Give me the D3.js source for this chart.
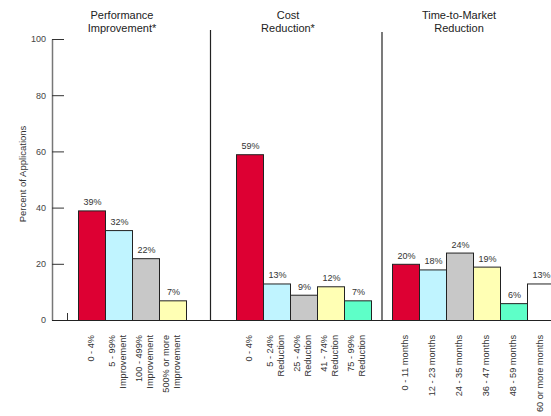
<!DOCTYPE html>
<html>
<head>
<meta charset="utf-8">
<script src="https://cdn.jsdelivr.net/npm/d3@7"></script>
<style>
  body { margin: 0; background: #fff; }
  text { font-family: 'Liberation Sans', Arial, sans-serif; }
</style>
</head>
<body>
<div id="chart"></div>
<script>
const width = 551
const height = 416

// data
const perfTitle = ['Performance', 'Improvement*']
const perfCats = [['0 - 4%'], ['5 - 99%', 'Improvement'], ['100 - 499%', 'Improvement'], ['500% or more', 'Improvement']]
const perfValues = [39, 32, 22, 7]

const costTitle = ['Cost', 'Reduction*']
const costCats = [['0 - 4%'], ['5 - 24%', 'Reduction'], ['25 - 40%', 'Reduction'], ['41 - 74%', 'Reduction'], ['75 - 99%', 'Reduction']]
const costValues = [59, 13, 9, 12, 7]

const timeTitle = ['Time-to-Market', 'Reduction']
const timeCats = [['0 - 11 months'], ['12 - 23 months'], ['24 - 35 months'], ['36 - 47 months'], ['48 - 59 months'], ['60 or more months']]
const timeValues = [20, 18, 24, 19, 6, 13]

const yTicks = [0, 20, 40, 60, 80, 100]
const colors = ['#dd0033', '#c0f4ff', '#c8c8c8', '#ffffb4', '#5effc8', '#ffffff']

const svg = d3
  .select('#chart')
  .append('svg')
  .attr('width', width)
  .attr('height', height)

const yScale = d3.scaleLinear().domain([0, 100]).range([320, 39])
const baseY = yScale(0)

// y axis, ticks pointing inward
const yAxis = d3
  .axisLeft(yScale)
  .tickValues(yTicks)
  .tickSize(-12)
  .tickSizeOuter(0)
  .tickPadding(6)

const axisG = svg
  .append('g')
  .attr('transform', 'translate(52,0)')
  .call(yAxis)
axisG.select('.domain').attr('stroke', '#777').attr('stroke-width', 1.5)
axisG.selectAll('.tick line').attr('stroke', '#333')
axisG
  .selectAll('.tick text')
  .attr('font-size', 9)
  .attr('fill', '#444')
  .attr('font-family', "'Liberation Sans', Arial, sans-serif")

svg
  .append('text')
  .text('Percent of Applications')
  .attr('transform', 'translate(26,174) rotate(-90)')
  .attr('text-anchor', 'middle')
  .attr('font-size', 9.5)
  .attr('fill', '#333')

// little stub near the axis base
svg
  .append('line')
  .attr('x1', 67.5).attr('x2', 67.5)
  .attr('y1', baseY - 7).attr('y2', baseY)
  .attr('stroke', '#333')

const panels = [
  { title: perfTitle, cats: perfCats, values: perfValues, x0: 78, titleX: 122 },
  { title: costTitle, cats: costCats, values: costValues, x0: 236, titleX: 288 },
  { title: timeTitle, cats: timeCats, values: timeValues, x0: 392, titleX: 459 }
]

const barW = 27

panels.forEach(function(p) {
  const xScale = d3
    .scaleBand()
    .domain(d3.range(p.values.length))
    .range([p.x0, p.x0 + barW * p.values.length])
    .padding(0)

  const g = svg.append('g')

  g.selectAll('.bar')
    .data(p.values)
    .enter()
    .append('rect')
    .attr('class', 'bar')
    .attr('x', (d, i) => xScale(i) + 0.5)
    .attr('y', d => yScale(d) + 0.5)
    .attr('width', xScale.bandwidth())
    .attr('height', d => baseY - yScale(d))
    .attr('fill', (d, i) => colors[i])
    .attr('stroke', '#222')
    .attr('stroke-width', 1)

  g.selectAll('.val')
    .data(p.values)
    .enter()
    .append('text')
    .attr('class', 'val')
    .text(d => d + '%')
    .attr('x', (d, i) => xScale(i) + xScale.bandwidth() / 2 + 1)
    .attr('y', d => yScale(d) - 5)
    .attr('text-anchor', 'middle')
    .attr('font-size', 9)
    .attr('fill', '#333')

  g.selectAll('.cat')
    .data(p.cats)
    .enter()
    .append('text')
    .attr('class', 'cat')
    .attr('transform', function(d, i) {
      const cx = xScale(i) + xScale.bandwidth() / 2
      return `translate(${cx},335) rotate(-90)`
    })
    .attr('text-anchor', 'end')
    .attr('font-size', 9.2)
    .attr('fill', '#333')
    .each(function(lines) {
      const t = d3.select(this)
      lines.forEach(function(line, j) {
        t.append('tspan')
          .attr('x', 0)
          .attr('y', 2 + (j - (lines.length - 1) / 2) * 11)
          .text(line)
      })
    })

  g.selectAll('.title')
    .data(p.title)
    .enter()
    .append('text')
    .attr('class', 'title')
    .text(d => d)
    .attr('x', p.titleX)
    .attr('y', (d, i) => 18.5 + i * 13)
    .attr('text-anchor', 'middle')
    .attr('font-size', 11)
    .attr('fill', '#222')
})

// panel separators
svg
  .selectAll('.sep')
  .data([{ x: 210.5, y: 30 }, { x: 382, y: 32 }])
  .enter()
  .append('line')
  .attr('class', 'sep')
  .attr('x1', d => d.x).attr('x2', d => d.x)
  .attr('y1', d => d.y).attr('y2', baseY)
  .attr('stroke', '#222')
  .attr('stroke-width', 1.2)

// baseline
svg
  .append('line')
  .attr('x1', 52).attr('x2', width)
  .attr('y1', baseY + 0.5).attr('y2', baseY + 0.5)
  .attr('stroke', '#222')
  .attr('stroke-width', 1.2)
</script>
</body>
</html>
